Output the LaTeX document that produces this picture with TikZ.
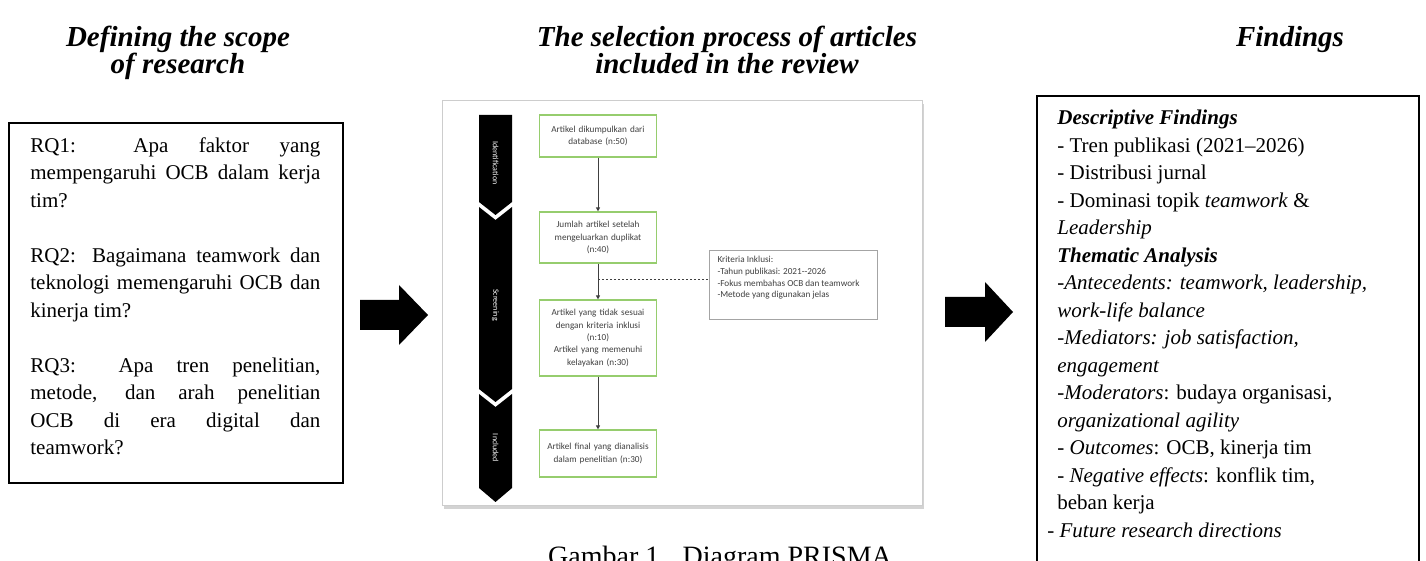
\documentclass[tikz,border=0pt]{standalone}
\usepackage{fontspec}
\setmainfont{Liberation Serif}
\newfontfamily\prismafont{Carlito}
\usetikzlibrary{arrows.meta,shadows}
\definecolor{prismagreen}{RGB}{150,205,110}
\definecolor{framegray}{RGB}{205,205,205}
\definecolor{prismatext}{RGB}{64,64,64}
\tikzset{
  headline/.style={font=\fontsize{14.5}{13.5}\selectfont\bfseries\itshape, align=center, inner sep=0},
  rqbox/.style={draw, line width=1.2pt, inner sep=0},
  rqtext/.style={font=\fontsize{10.5}{13.75}\selectfont, inner sep=0, text width=145pt, align=justify},
  prismabox/.style={draw=prismagreen, line width=0.6pt, fill=white, minimum width=58.5pt,
    text width=56pt, align=center, inner sep=0, font=\prismafont\fontsize{4.6}{6.15}\selectfont, text=prismatext},
  critbox/.style={draw=framegray!80!black, line width=0.5pt, inner xsep=4pt, inner ysep=3pt,
    font=\prismafont\fontsize{4.6}{5.8}\selectfont, text=prismatext},
  flowline/.style={draw=prismatext, line width=0.5pt, -{Triangle[length=2pt,width=2pt]}},
  phase/.style={text=white, font=\prismafont\fontsize{4}{5}\selectfont, rotate=-90, inner sep=0},
}
\begin{document}
\begin{tikzpicture}[x=0.5pt,y=-0.5pt]
\useasboundingbox (0,0) rectangle (1426,561);

% column titles
\node[headline, anchor=north] (scope) at (178,26) {Defining the scope\\of research};
\node[headline, anchor=north] (select) at (727,26) {The selection process of articles\\included in the review};
\node[headline, anchor=north] (find) at (1290,26) {Findings};

% research questions
\node[rqbox, anchor=north west, minimum width=167pt, minimum height=180pt] (rqframe) at (8,122) {};
\node[rqtext, anchor=north west] (rq) at (30,137) {\hyphenpenalty=10000
RQ1: Apa faktor yang\linebreak mempengaruhi OCB dalam kerja\linebreak tim?\par\vspace{13.75pt}
RQ2: Bagaimana teamwork dan\linebreak teknologi memengaruhi OCB dan\linebreak kinerja tim?\par\vspace{13.75pt}
RQ3: Apa tren penelitian,\linebreak metode, dan arah penelitian\linebreak OCB di era digital dan\linebreak teamwork?};

% big arrows
\fill (360,300) -- (399,300) -- (399,285) -- (428,315) -- (399,345) -- (399,330) -- (360,330) -- cycle;
\fill (945,297) -- (985,297) -- (985,282) -- (1013,312) -- (985,342) -- (985,327) -- (945,327) -- cycle;

% PRISMA picture
\draw[draw=framegray, fill=white, drop shadow={opacity=0.35, shadow xshift=1pt, shadow yshift=-2pt}] (442,100) rectangle (922,505);
\fill (479,115) -- (512,115) -- (512,202) -- (495.5,215) -- (479,202) -- cycle;
\fill (479,207) -- (495.5,220) -- (512,207) -- (512,389) -- (495.5,402) -- (479,389) -- cycle;
\fill (479,394) -- (495.5,407) -- (512,394) -- (512,488) -- (495.5,502) -- (479,488) -- cycle;
\node[phase] (ident) at (495.5,163) {Identification};
\node[phase] (screen) at (495.5,305) {Screening};
\node[phase] (incl) at (495.5,448) {Included};

\node[prismabox, minimum height=21pt] (collect) at (598,136) {Artikel dikumpulkan dari\\database (n:50)};
\node[prismabox, minimum height=25.5pt] (dedup) at (598,237.5) {Jumlah artikel setelah\\mengeluarkan duplikat\\(n:40)};
\node[prismabox, minimum height=38pt] (eligible) at (598,338) {Artikel yang tidak sesuai\\dengan kriteria inklusi\\(n:10)\\Artikel yang memenuhi\\kelayakan (n:30)};
\node[prismabox, minimum height=23.5pt] (final) at (598,453.5) {Artikel final yang dianalisis\\dalam penelitian (n:30)};
\node[critbox, anchor=north west] (crit) at (709,250) {\parbox[t][28.5pt][t]{76pt}{\raggedright Kriteria Inklusi:\\-Tahun publikasi: 2021--2026\\-Fokus membahas OCB dan teamwork\\-Metode yang digunakan jelas}};

\draw[flowline] (collect) -- (dedup);
\draw[flowline] (dedup) -- (eligible);
\draw[flowline] (eligible) -- (final);
\coordinate (split) at (598,279);
\draw[draw=prismatext, line width=0.4pt, dashed, dash pattern=on 1pt off 1pt] (split) -- (split -| crit.west);

\node[font=\fontsize{14}{16}\selectfont, anchor=base] (caption) at (720,566) {Gambar 1.~ Diagram PRISMA};

% findings
\node[rqbox, anchor=north west, minimum width=191pt, minimum height=245pt] (findframe) at (1036,95) {};
\node[font=\fontsize{10.5}{13.75}\selectfont, align=left, inner sep=0, anchor=north west] (findings) at (1057,110) {%
\textbf{\textit{Descriptive Findings}}\\
- Tren publikasi (2021--2026)\\
- Distribusi jurnal\\
- Dominasi topik \textit{teamwork} \&\\
\textit{Leadership}\\
\textbf{\textit{Thematic Analysis}}\\
\textit{-Antecedents: teamwork, leadership,}\\
\textit{work-life balance}\\
-\textit{Mediators: job satisfaction,}\\
\textit{engagement}\\
-\textit{Moderators}: budaya organisasi,\\
\textit{organizational agility}\\
- \textit{Outcomes}: OCB, kinerja tim\\
- \textit{Negative effects}: konflik tim,\\
beban kerja\\
\hspace*{-5pt}- \textit{Future research directions}};
\end{tikzpicture}
\end{document}
